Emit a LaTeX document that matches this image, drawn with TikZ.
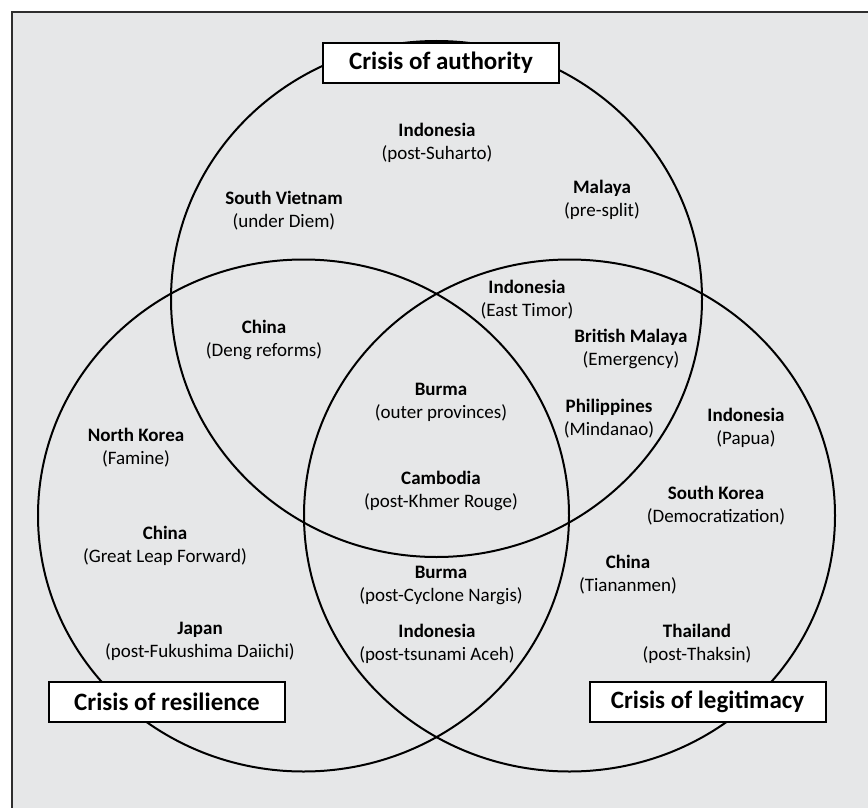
\documentclass[tikz,border=0pt]{standalone}
\usepackage{fontspec}
\setmainfont{Carlito}
\usetikzlibrary{shapes.geometric}
\definecolor{bggray}{HTML}{E6E7E8}
\definecolor{framegray}{HTML}{2E2E2E}
\begin{document}
\begin{tikzpicture}[x=1pt,y=-1pt,
  venn/.style={ellipse, draw=black, line width=2pt, minimum width=531pt, minimum height=512pt, inner sep=0pt, outer sep=0pt},
  item/.style={align=center, font=\fontsize{19}{23}\selectfont, inner sep=0pt},
  crisis/.style={draw=black, line width=2pt, fill=white, font=\fontsize{25}{30}\selectfont\bfseries, minimum width=236pt, minimum height=40pt, inner sep=0pt}]
\useasboundingbox (0,0) rectangle (868,808);
\fill[white] (0,0) rectangle (868,808);
\begin{scope}
\clip (0,0) rectangle (868,808);
\draw[framegray, line width=2.5pt, fill=bggray] (12,12) rectangle (890,830);
\end{scope}
% circles
\node[venn, minimum height=516pt] (auth) at (436.5,299) {};
\node[venn] (res) at (303.5,515.5) {};
\node[venn] (leg) at (569.5,515.5) {};
% authority only
\node[item] (a1) at (437,142.5) {\textbf{Indonesia}\\(post-Suharto)};
\node[item] (a2) at (284,211) {\textbf{South Vietnam}\\(under Diem)};
\node[item] (a3) at (602,200) {\textbf{Malaya}\\(pre-split)};
% authority & legitimacy
\node[item] (ar1) at (527,299.5) {\textbf{Indonesia}\\(East Timor)};
\node[item] (ar2) at (631,349) {\textbf{British Malaya}\\(Emergency)};
\node[item] (ar3) at (609,418.5) {\textbf{Philippines}\\(Mindanao)};
% authority & resilience
\node[item] (ra1) at (264,339.5) {\textbf{China}\\(Deng reforms)};
% all three
\node[item] (c1) at (441,402.5) {\textbf{Burma}\\(outer provinces)};
\node[item] (c2) at (441,491) {\textbf{Cambodia}\\(post-Khmer Rouge)};
% resilience only
\node[item] (r1) at (136,448) {\textbf{North Korea}\\(Famine)};
\node[item] (r2) at (165,545.5) {\textbf{China}\\(Great Leap Forward)};
\node[item] (r3) at (200,641.5) {\textbf{Japan}\\(post-Fukushima Daiichi)};
% resilience & legitimacy
\node[item] (rl1) at (441,585.5) {\textbf{Burma}\\(post-Cyclone Nargis)};
\node[item] (rl2) at (437,643.5) {\textbf{Indonesia}\\(post-tsunami Aceh)};
% legitimacy only
\node[item] (l1) at (746,427.5) {\textbf{Indonesia}\\(Papua)};
\node[item] (l2) at (716,506) {\textbf{South Korea}\\(Democratization)};
\node[item] (l3) at (628,575) {\textbf{China}\\(Tiananmen)};
\node[item] (l4) at (697,644) {\textbf{Thailand}\\(post-Thaksin)};
% labels
\node[crisis] (lauth) at (441,63) {Crisis of authority};
\node[crisis] (lres) at (167,702) {Crisis of resilience};
\node[crisis] (lleg) at (707.5,702) {Crisis of legitimacy};
\end{tikzpicture}
\end{document}
